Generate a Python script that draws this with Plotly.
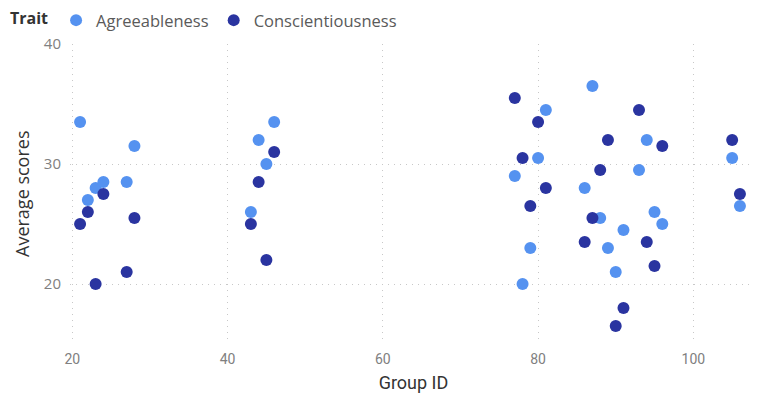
import plotly.graph_objects as go

agree_x = [21, 22, 23, 24, 27, 28, 43, 44, 45, 46, 77, 78, 79, 80, 81, 86, 87, 88, 89, 90, 91, 93, 94, 95, 96, 105, 106]
agree_y = [33.5, 27, 28, 28.5, 28.5, 31.5, 26, 32, 30, 33.5, 29, 20, 23, 30.5, 34.5, 28, 36.5, 25.5, 23, 21, 24.5, 29.5, 32, 26, 25, 30.5, 26.5]

consc_x = [21, 22, 23, 24, 27, 28, 43, 44, 45, 46, 77, 78, 79, 80, 81, 86, 87, 88, 89, 90, 91, 93, 94, 95, 96, 105, 106]
consc_y = [25, 26, 20, 27.5, 21, 25.5, 25, 28.5, 22, 31, 35.5, 30.5, 26.5, 33.5, 28, 23.5, 25.5, 29.5, 32, 16.5, 18, 34.5, 23.5, 21.5, 31.5, 32, 27.5]

x_ticks = [20, 40, 60, 80, 100]
y_ticks = [20, 30, 40]
y_title = "Average scores"

fig = go.Figure()
fig.add_trace(go.Scatter(x=agree_x, y=agree_y, mode="markers", name="Agreeableness",
                         marker=dict(size=12, color="#5592F0")))
fig.add_trace(go.Scatter(x=consc_x, y=consc_y, mode="markers", name="Conscientiousness",
                         marker=dict(size=12, color="#2A34A0")))

grid = dict(showgrid=True, gridcolor="#c8c8c8", griddash="1px,5px", gridwidth=1,
            zeroline=False, showline=False, automargin=False)

fig.update_layout(
    width=751, height=392,
    margin=dict(l=62, r=2, t=36, b=56, autoexpand=False),
    plot_bgcolor="white", paper_bgcolor="white",
    font=dict(family="Open Sans, sans-serif", color="#666"),
    legend=dict(orientation="h", xref="container", yref="paper", x=0.0, y=1.137,
                xanchor="left", yanchor="top", bgcolor="rgba(0,0,0,0)",
                title=dict(text="<b>Trait</b>", font=dict(size=16, color="#333")),
                font=dict(size=16.5, color="#5a5a5a"), itemsizing="constant",
                itemwidth=30, tracegroupgap=0),
    xaxis=dict(range=[19.7, 108.2], tickvals=x_ticks, ticklabelstandoff=5,
               tickfont=dict(size=14, color="#808080", family="Roboto, sans-serif"),
               title=dict(text="Group ID", font=dict(size=18, color="#333", family="Roboto, sans-serif"), standoff=10),
               **grid),
    yaxis=dict(range=[15, 40], tickvals=y_ticks, ticklabelstandoff=8,
               tickfont=dict(size=15, color="#808080"),
               **grid),
    annotations=[dict(text=y_title, xref="paper", yref="paper", x=-0.0699, y=0.5,
                      xanchor="center", yanchor="middle", textangle=-90, showarrow=False,
                      font=dict(size=18, color="#333", family="Open Sans, sans-serif"))],
)
fig.write_html("out.html")
